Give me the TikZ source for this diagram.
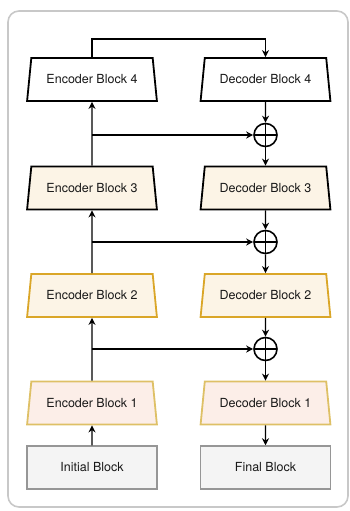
\documentclass[tikz,border=0pt]{standalone}
\usepackage{fontspec}
\setmainfont{TeX Gyre Heros}
\usepackage{tikz}
\usetikzlibrary{shapes.geometric,arrows.meta}

\definecolor{frameGray}{RGB}{200,200,200}
\definecolor{creamFill}{RGB}{252,244,230}
\definecolor{goldLine}{RGB}{218,166,40}
\definecolor{pinkFill}{RGB}{252,238,232}
\definecolor{paleGold}{RGB}{222,192,102}
\definecolor{boxFill}{RGB}{244,244,244}
\definecolor{boxLine}{RGB}{150,150,150}

\tikzset{
  block/.style={trapezium, trapezium left angle=78, trapezium right angle=78,
    trapezium stretches=true, minimum width=130pt, minimum height=43pt,
    draw, line width=1.8pt, fill=white, text=black!90,
    font=\fontsize{12.5}{15}\selectfont},
  plain/.style={rectangle, minimum width=130pt, minimum height=43pt,
    draw=boxLine, fill=boxFill, line width=1.5pt, text=black!90,
    font=\fontsize{12.5}{15}\selectfont},
  sum/.style={circle, draw, line width=1.6pt, minimum size=23pt, inner sep=0pt,
    path picture={\draw[line width=1.6pt]
      (path picture bounding box.north) -- (path picture bounding box.south)
      (path picture bounding box.west) -- (path picture bounding box.east);}},
  link/.style={line width=1.2pt, -{Stealth[length=7pt,width=7pt]}}
}

\begin{document}
\begin{tikzpicture}[x=1pt,y=-1pt]
\useasboundingbox (0,0) rectangle (350,511);
\draw[frameGray, line width=1.6pt, rounded corners=11pt] (8,11) rectangle (348,507);

% encoder side
\node[block] (enc4) at (92,79.5) {Encoder Block 4};
\node[block, fill=creamFill] (enc3) at (92,188) {Encoder Block 3};
\node[block, draw=goldLine, fill=creamFill] (enc2) at (92,295.5) {Encoder Block 2};
\node[block, draw=paleGold, fill=pinkFill] (enc1) at (92,403) {Encoder Block 1};
\node[plain] (init) at (92,467.5) {Initial Block};

% decoder side
\node[block] (dec4) at (265.5,79.5) {Decoder Block 4};
\node[block, fill=creamFill] (dec3) at (265.5,188) {Decoder Block 3};
\node[block, draw=goldLine, fill=creamFill] (dec2) at (265.5,295.5) {Decoder Block 2};
\node[block, draw=paleGold, fill=pinkFill] (dec1) at (265.5,403) {Decoder Block 1};
\node[plain] (final) at (265.5,467.5) {Final Block};

% skip merges
\node[sum] (sum3) at (265.5,135) {};
\node[sum] (sum2) at (265.5,242) {};
\node[sum] (sum1) at (265.5,349) {};

\draw[link] (init) -- (enc1);
\draw[link] (enc1) -- (enc2);
\draw[link] (enc2) -- (enc3);
\draw[link] (enc3) -- (enc4);
\draw[link] (enc4.north) -- ++(0,-18) -| (dec4.north);

\draw[link] (dec4) -- (sum3);
\draw[link] (sum3) -- (dec3);
\draw[link] (dec3) -- (sum2);
\draw[link] (sum2) -- (dec2);
\draw[link] (dec2) -- (sum1);
\draw[link] (sum1) -- (dec1);
\draw[link] (dec1) -- (final);

\draw[link] (enc4.south |- sum3) -- (sum3);
\draw[link] (enc3.south |- sum2) -- (sum2);
\draw[link] (enc2.south |- sum1) -- (sum1);
\end{tikzpicture}
\end{document}
